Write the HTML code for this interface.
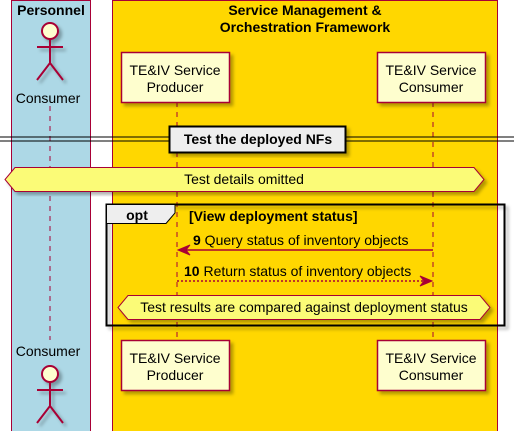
<!DOCTYPE html>
<html><head><style>body{margin:0;background:#fff}svg{display:block}</style></head><body>
<svg width="514" height="431" viewBox="0 0 514 431" xmlns="http://www.w3.org/2000/svg" font-family="Liberation Sans, sans-serif">
<defs><filter id="sh" x="-10%" y="-10%" width="130%" height="130%"><feDropShadow dx="3" dy="3" stdDeviation="1.5" flood-color="#000" flood-opacity="0.3"/></filter></defs>
<rect x="11.5" y="0.5" width="79" height="431" fill="#ADD8E6" stroke="#A80036"/>
<rect x="112.5" y="0.5" width="385" height="431" fill="#FFD700" stroke="#A80036"/>
<text x="51" y="15" font-size="14" font-weight="bold" text-anchor="middle">Personnel</text>
<text x="305" y="15" font-size="14" font-weight="bold" text-anchor="middle">Service Management &amp;</text>
<text x="305" y="32" font-size="14" font-weight="bold" text-anchor="middle">Orchestration Framework</text>
<g stroke="#A80036" stroke-dasharray="5,5"><line x1="50" y1="106" x2="50" y2="340"/><line x1="177" y1="102" x2="177" y2="341"/><line x1="433" y1="102" x2="433" y2="341"/></g>
<g fill="#FEFECE" stroke="#A80036" stroke-width="1.5" filter="url(#sh)"><rect x="121.5" y="52.5" width="108" height="50"/><rect x="377.5" y="52.5" width="108" height="50"/><rect x="121.5" y="340.5" width="108" height="50"/><rect x="377.5" y="340.5" width="108" height="50"/></g>
<g font-size="14" text-anchor="middle"><text x="175" y="75">TE&amp;IV Service</text><text x="175" y="92">Producer</text><text x="431" y="75">TE&amp;IV Service</text><text x="431" y="92">Consumer</text><text x="175" y="363">TE&amp;IV Service</text><text x="175" y="380">Producer</text><text x="431" y="363">TE&amp;IV Service</text><text x="431" y="380">Consumer</text><text x="48" y="103">Consumer</text><text x="48" y="356">Consumer</text></g>
<g fill="none" stroke="#A80036" stroke-width="2" filter="url(#sh)"><circle cx="50" cy="31" r="8" fill="#FEFECE"/><path d="M50 39V63M37 47H63M50 63L37 80M50 63L63 80"/><circle cx="50" cy="374" r="8" fill="#FEFECE"/><path d="M50 382V406M37 390H63M50 406L37 423M50 406L63 423"/></g>
<g stroke="#000" stroke-width="1"><line x1="0" y1="137" x2="514" y2="137"/><line x1="0" y1="141" x2="514" y2="141"/></g>
<rect x="169.5" y="126.5" width="176" height="26" fill="#EEEEEE" stroke="#000" stroke-width="2" filter="url(#sh)"/>
<text x="258" y="144" font-size="14" font-weight="bold" text-anchor="middle">Test the deployed NFs</text>
<path d="M15 167.5H474L484 179.5L474 191.5H15L5 179.5Z" fill="#FBFB77" stroke="#A80036" filter="url(#sh)"/>
<text x="244" y="184" font-size="14" text-anchor="middle">Test details omitted</text>
<rect x="106.5" y="204.5" width="398" height="121" fill="none" stroke="#000" stroke-width="2" filter="url(#sh)"/>
<path d="M106.5 204.5H175L175 213L166 223.5H106.5Z" fill="#EEEEEE" stroke="#000"/>
<text x="137" y="220" font-size="14" font-weight="bold" text-anchor="middle">opt</text>
<text x="189" y="221" font-size="14" font-weight="bold">[View deployment status]</text>
<line x1="180" y1="250" x2="433" y2="250" stroke="#A80036" stroke-width="1.5"/>
<path d="M178 250L190 245L186 250L190 255Z" fill="#A80036" stroke="#A80036"/>
<text x="193" y="245" font-size="14"><tspan font-weight="bold">9</tspan> Query status of inventory objects</text>
<line x1="177" y1="281" x2="428" y2="281" stroke="#A80036" stroke-width="1.5" stroke-dasharray="2,2"/>
<path d="M432 281L420 276L424 281L420 286Z" fill="#A80036" stroke="#A80036"/>
<text x="184" y="276" font-size="14"><tspan font-weight="bold">10</tspan> Return status of inventory objects</text>
<path d="M128 295.5H480L490 307.5L480 319.5H128L118 307.5Z" fill="#FBFB77" stroke="#A80036" filter="url(#sh)"/>
<text x="304" y="312" font-size="14" text-anchor="middle">Test results are compared against deployment status</text>
</svg>
</body></html>
